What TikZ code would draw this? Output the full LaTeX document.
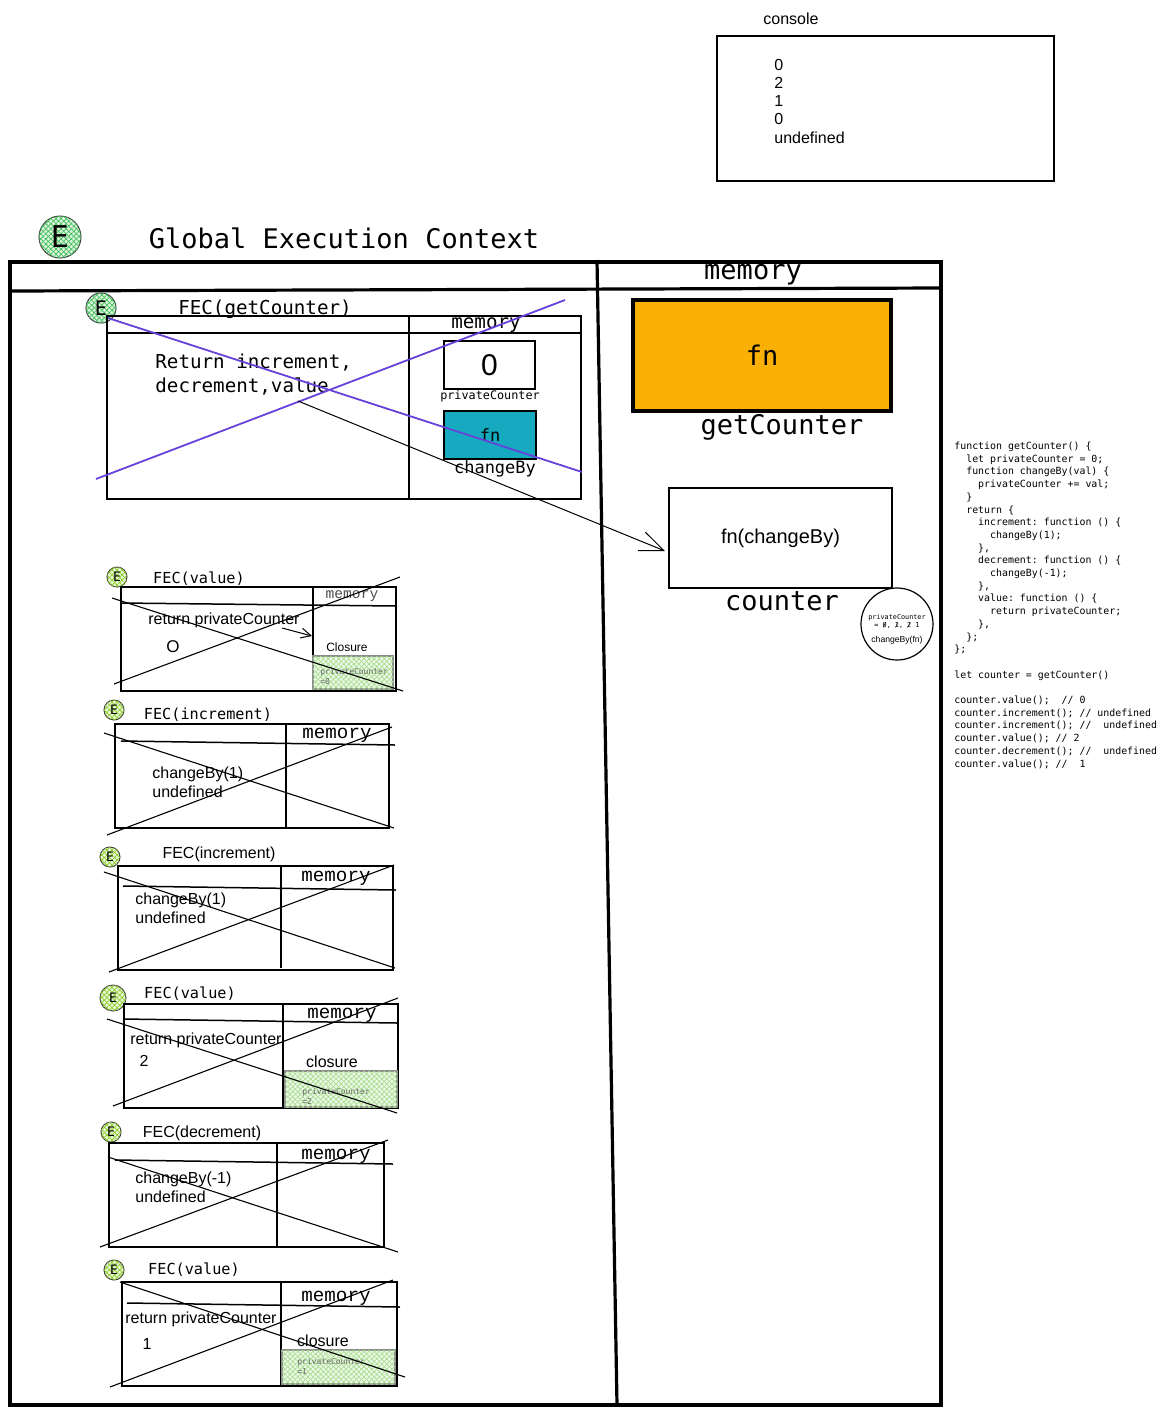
\documentclass[tikz,border=0pt]{standalone}
\usepackage{fontspec}
\setmainfont{Liberation Sans}
\setmonofont{DejaVu Sans Mono}
\newfontfamily\courierfont{Liberation Mono}
\usetikzlibrary{arrows.meta,patterns.meta}
\definecolor{purpline}{RGB}{103,65,217}
\definecolor{tealfn}{RGB}{21,170,191}
\definecolor{orangefn}{RGB}{250,176,5}
\definecolor{mintgreen}{RGB}{64,192,87}
\definecolor{limegreen}{RGB}{140,206,40}
\definecolor{hatchgreen}{RGB}{165,222,140}
\newcommand{\fsz}[2]{\fontsize{#1}{#2}\selectfont}
\newcommand{\strk}[1]{\ooalign{#1\cr\hidewidth/\hidewidth\cr}}
\frenchspacing

\begin{document}
\begin{tikzpicture}[x=0.5pt,y=-0.5pt,
    hatch/.style={fill=#1!18,
      postaction={pattern={Lines[angle=45,distance=1.8pt,line width=0.35pt]},pattern color=#1},
      postaction={pattern={Lines[angle=-45,distance=1.8pt,line width=0.35pt]},pattern color=#1}},
    ecirc/.style={circle,draw=black!75,line width=0.5pt,inner sep=0pt,minimum size=#1},
    frm/.style={line width=1.6pt},
    fecbox/.style={line width=0.75pt},
    crossln/.style={line width=0.55pt},
    purpln/.style={purpline,line width=0.9pt},
    closurebox/.style={draw=black!45,line width=0.6pt,hatch=hatchgreen},
    barb/.style={-{Straight Barb[length=12pt,width=10pt]},line width=0.5pt},
    smallbarb/.style={-{Straight Barb[length=5pt,width=5pt]},line width=0.5pt},
    monoT/.style={inner sep=0pt,font=\ttfamily\fsz{13.5}{16}},
    monoM/.style={inner sep=0pt,font=\ttfamily\fsz{9.6}{12}},
    monoF/.style={inner sep=0pt,font=\ttfamily\fsz{7.6}{9}},
    memlbl/.style={inner sep=0pt,font=\courierfont\fsz{9.6}{11}},
    sans8/.style={inner sep=0pt,font=\fsz{8}{9.1}},
    pctext/.style={inner sep=0pt,align=left,anchor=base west,text=black!60,font=\ttfamily\fsz{4}{5}},
    smallE/.style={ecirc=10pt,hatch=limegreen,font=\ttfamily\fsz{6.5}{7}}]
  \useasboundingbox (0,0) rectangle (1166,1415);

  % console
  \node[sans8] (conlbl) at (791,19) {console};
  \node[draw,line width=0.6pt,minimum width=168.5pt,minimum height=72.5pt] (conbox) at (885.5,108.5) {};
  \node[sans8,align=left,anchor=base west] (conout) at (774,143) {0\\2\\1\\0\\undefined};

  % global execution context
  \node[ecirc=21pt,hatch=mintgreen,font=\ttfamily\fsz{15}{16}] (gE) at (60,237) {E};
  \node[monoT] (gtitle) at (344,238) {Global Execution Context};
  \draw[frm] (10,262) rectangle (941,1405);
  \draw[frm] (10,291) -- (941,288);
  \draw[frm] (597,260) -- (617,1405);
  \node[monoT] (gmem) at (753,275) {memory};

  % FEC(getCounter)
  \node[ecirc=15pt,hatch=mintgreen,font=\ttfamily\fsz{10}{11}] (gcE) at (101,308) {E};
  \node[monoM] (gclbl) at (265,309) {FEC(getCounter)};
  \draw[fecbox] (107,316) rectangle (581,499);
  \draw[fecbox] (107,333) -- (581,333);
  \draw[fecbox] (409,316) -- (409,499);
  \node[monoM] (gcmem) at (486,325) {memory};
  \node[monoM,align=left,anchor=base west] (gcret) at (155,392) {Return increment,\\decrement,value};
  \node[draw,line width=0.7pt,minimum width=45.5pt,minimum height=24pt,font=\fsz{15}{16}] (pcbox) at (489.5,365) {0};
  \node[inner sep=0pt,font=\ttfamily\fsz{5.9}{7}] (pclbl) at (490,396) {privateCounter};
  \node[draw,fill=tealfn,line width=0.7pt,minimum width=46pt,minimum height=24pt,font=\ttfamily\fsz{8.5}{9}] (cbfn) at (490,435) {fn};
  \node[inner sep=0pt,font=\ttfamily\fsz{8.5}{9}] (cblbl) at (495,469) {changeBy};
  \draw[purpln] (108,318) -- (582,472);
  \draw[purpln] (96,479) -- (565,300);
  \coordinate (retpt) at (298,401);
  \coordinate (cnttip) at (665,551);
  \draw[barb] (retpt) -- (cnttip);

  % global memory
  \node[draw,line width=1.6pt,fill=orangefn,minimum width=129pt,minimum height=55.5pt,font=\ttfamily\fsz{13.5}{16}] (gcfn) at (762,355.5) {fn};
  \node[monoT] (gcname) at (782,427) {getCounter};
  \node[draw,line width=0.6pt,minimum width=111.5pt,minimum height=50pt,font=\fsz{10}{12}] (cntbox) at (780.5,538) {fn(changeBy)};
  \node[monoT] (cntname) at (782,601) {counter};
  \node[circle,draw,line width=0.6pt,minimum size=36pt] (closc) at (897,624) {};
  \node[inner sep=0pt,align=center,font=\ttfamily\fsz{3.4}{4}] (closcpc) at (897,621) {privateCounter\\= \strk{0}, \strk{1}, \strk{2} 1};
  \node[inner sep=0pt,font=\fsz{4.3}{5}] (closccb) at (897,640) {changeBy(fn)};

  % source code
  \node[inner sep=0pt,align=left,anchor=base west,font=\ttfamily\fsz{4.95}{6.35}] (srccode) at (954,767) {%
    function getCounter() \{\\
    ~~let privateCounter = 0;\\
    ~~function changeBy(val) \{\\
    ~~~~privateCounter += val;\\
    ~~\}\\
    ~~return \{\\
    ~~~~increment: function () \{\\
    ~~~~~~changeBy(1);\\
    ~~~~\},\\
    ~~~~decrement: function () \{\\
    ~~~~~~changeBy(-1);\\
    ~~~~\},\\
    ~~~~value: function () \{\\
    ~~~~~~return privateCounter;\\
    ~~~~\},\\
    ~~\};\\
    \};\\
    ~\\
    let counter = getCounter()\\
    ~\\
    counter.value();~~// 0\\
    counter.increment(); // undefined\\
    counter.increment(); //~~undefined\\
    counter.value(); // 2\\
    counter.decrement(); //~~undefined\\
    counter.value(); //~~1};

  % FEC(value) 1
  \node[smallE] (v1E) at (117,577) {E};
  \node[monoF] (v1lbl) at (199,579) {FEC(value)};
  \draw[fecbox] (121,587) rectangle (396,691);
  \draw[fecbox] (121,603) -- (396,606);
  \draw[fecbox] (313,587) -- (313,691);
  \node[memlbl,text=black!70,font=\courierfont\fsz{7.3}{8}] (v1mem) at (352,596) {memory};
  \node[sans8,anchor=west] (v1ret) at (148,620) {return privateCounter};
  \node[inner sep=0pt,font=\fsz{8.5}{9}] (v1out) at (173,647) {O};
  \coordinate (v1a) at (282,628);
  \coordinate (v1b) at (312,636);
  \draw[smallbarb] (v1a) -- (v1b);
  \node[inner sep=0pt,font=\fsz{6}{7}] (v1clo) at (347,647) {Closure};
  \draw[closurebox] (313,656) rectangle (393,689);
  \node[pctext] (v1pc) at (320,684) {privateCounter\\=0};
  \draw[crossln] (114,684) -- (400,577);
  \draw[crossln] (112,598) -- (403,691);

  % FEC(increment) 1
  \node[smallE] (i1E) at (114,710) {E};
  \node[monoF] (i1lbl) at (208,715) {FEC(increment)};
  \draw[fecbox] (115,724) rectangle (389,828);
  \draw[fecbox] (121,741) -- (395,745);
  \draw[fecbox] (286,724) -- (286,828);
  \node[memlbl] (i1mem) at (337,735) {memory};
  \node[sans8,align=left,anchor=base west] (i1txt) at (152,797) {changeBy(1)\\undefined};
  \draw[crossln] (104,733) -- (394,828);
  \draw[crossln] (107,835) -- (392,727);

  % FEC(increment) 2
  \node[smallE] (i2E) at (110,857) {E};
  \node[sans8] (i2lbl) at (219,854) {FEC(increment)};
  \draw[fecbox] (118,866) rectangle (393,970);
  \draw[fecbox] (123,886) -- (396,890);
  \draw[fecbox] (281,866) -- (281,968);
  \node[memlbl] (i2mem) at (336,878) {memory};
  \node[sans8,align=left,anchor=base west] (i2txt) at (135,923) {changeBy(1)\\undefined};
  \draw[crossln] (104,872) -- (395,968);
  \draw[crossln] (109,972) -- (394,865);

  % FEC(value) 2
  \node[smallE,minimum size=13pt] (v2E) at (113,998) {E};
  \node[monoF] (v2lbl) at (190,994) {FEC(value)};
  \draw[fecbox] (124,1004) rectangle (398,1108);
  \draw[fecbox] (123,1019) -- (397,1023);
  \draw[fecbox] (283,1004) -- (283,1108);
  \node[memlbl] (v2mem) at (342,1015) {memory};
  \node[sans8,anchor=west] (v2ret) at (130,1040) {return privateCounter};
  \node[inner sep=0pt,font=\fsz{8}{9}] (v2out) at (144,1061) {2};
  \node[inner sep=0pt,font=\fsz{8}{9}] (v2clo) at (332,1062) {closure};
  \draw[closurebox] (285,1071) rectangle (397,1107);
  \node[pctext] (v2pc) at (302,1104) {privateCounter\\=2};
  \draw[crossln] (107,1019) -- (397,1113);
  \draw[crossln] (113,1106) -- (398,998);

  % FEC(decrement)
  \node[smallE] (d1E) at (111,1132) {E};
  \node[sans8] (d1lbl) at (202,1133) {FEC(decrement)};
  \draw[fecbox] (109,1143) rectangle (384,1247);
  \draw[fecbox] (115,1160) -- (393,1164);
  \draw[fecbox] (277,1143) -- (277,1247);
  \node[memlbl] (d1mem) at (336,1156) {memory};
  \node[sans8,align=left,anchor=base west] (d1txt) at (135,1202) {changeBy(-1)\\undefined};
  \draw[crossln] (108,1157) -- (398,1252);
  \draw[crossln] (100,1247) -- (388,1140);

  % FEC(value) 3
  \node[smallE] (v3E) at (114,1270) {E};
  \node[monoF] (v3lbl) at (194,1270) {FEC(value)};
  \draw[fecbox] (122,1282) rectangle (397,1386);
  \draw[fecbox] (127,1303) -- (400,1307);
  \draw[fecbox] (281,1282) -- (281,1386);
  \node[memlbl] (v3mem) at (336,1298) {memory};
  \node[sans8,anchor=west] (v3ret) at (125,1319) {return privateCounter};
  \node[inner sep=0pt,font=\fsz{8}{9}] (v3out) at (147,1344) {1};
  \node[inner sep=0pt,font=\fsz{8}{9}] (v3clo) at (323,1341) {closure};
  \draw[closurebox] (282,1350) rectangle (395,1384);
  \node[pctext] (v3pc) at (297,1374) {privateCounter\\=1};
  \draw[crossln] (120,1282) -- (405,1377);
  \draw[crossln] (110,1387) -- (393,1280);
\end{tikzpicture}
\end{document}
